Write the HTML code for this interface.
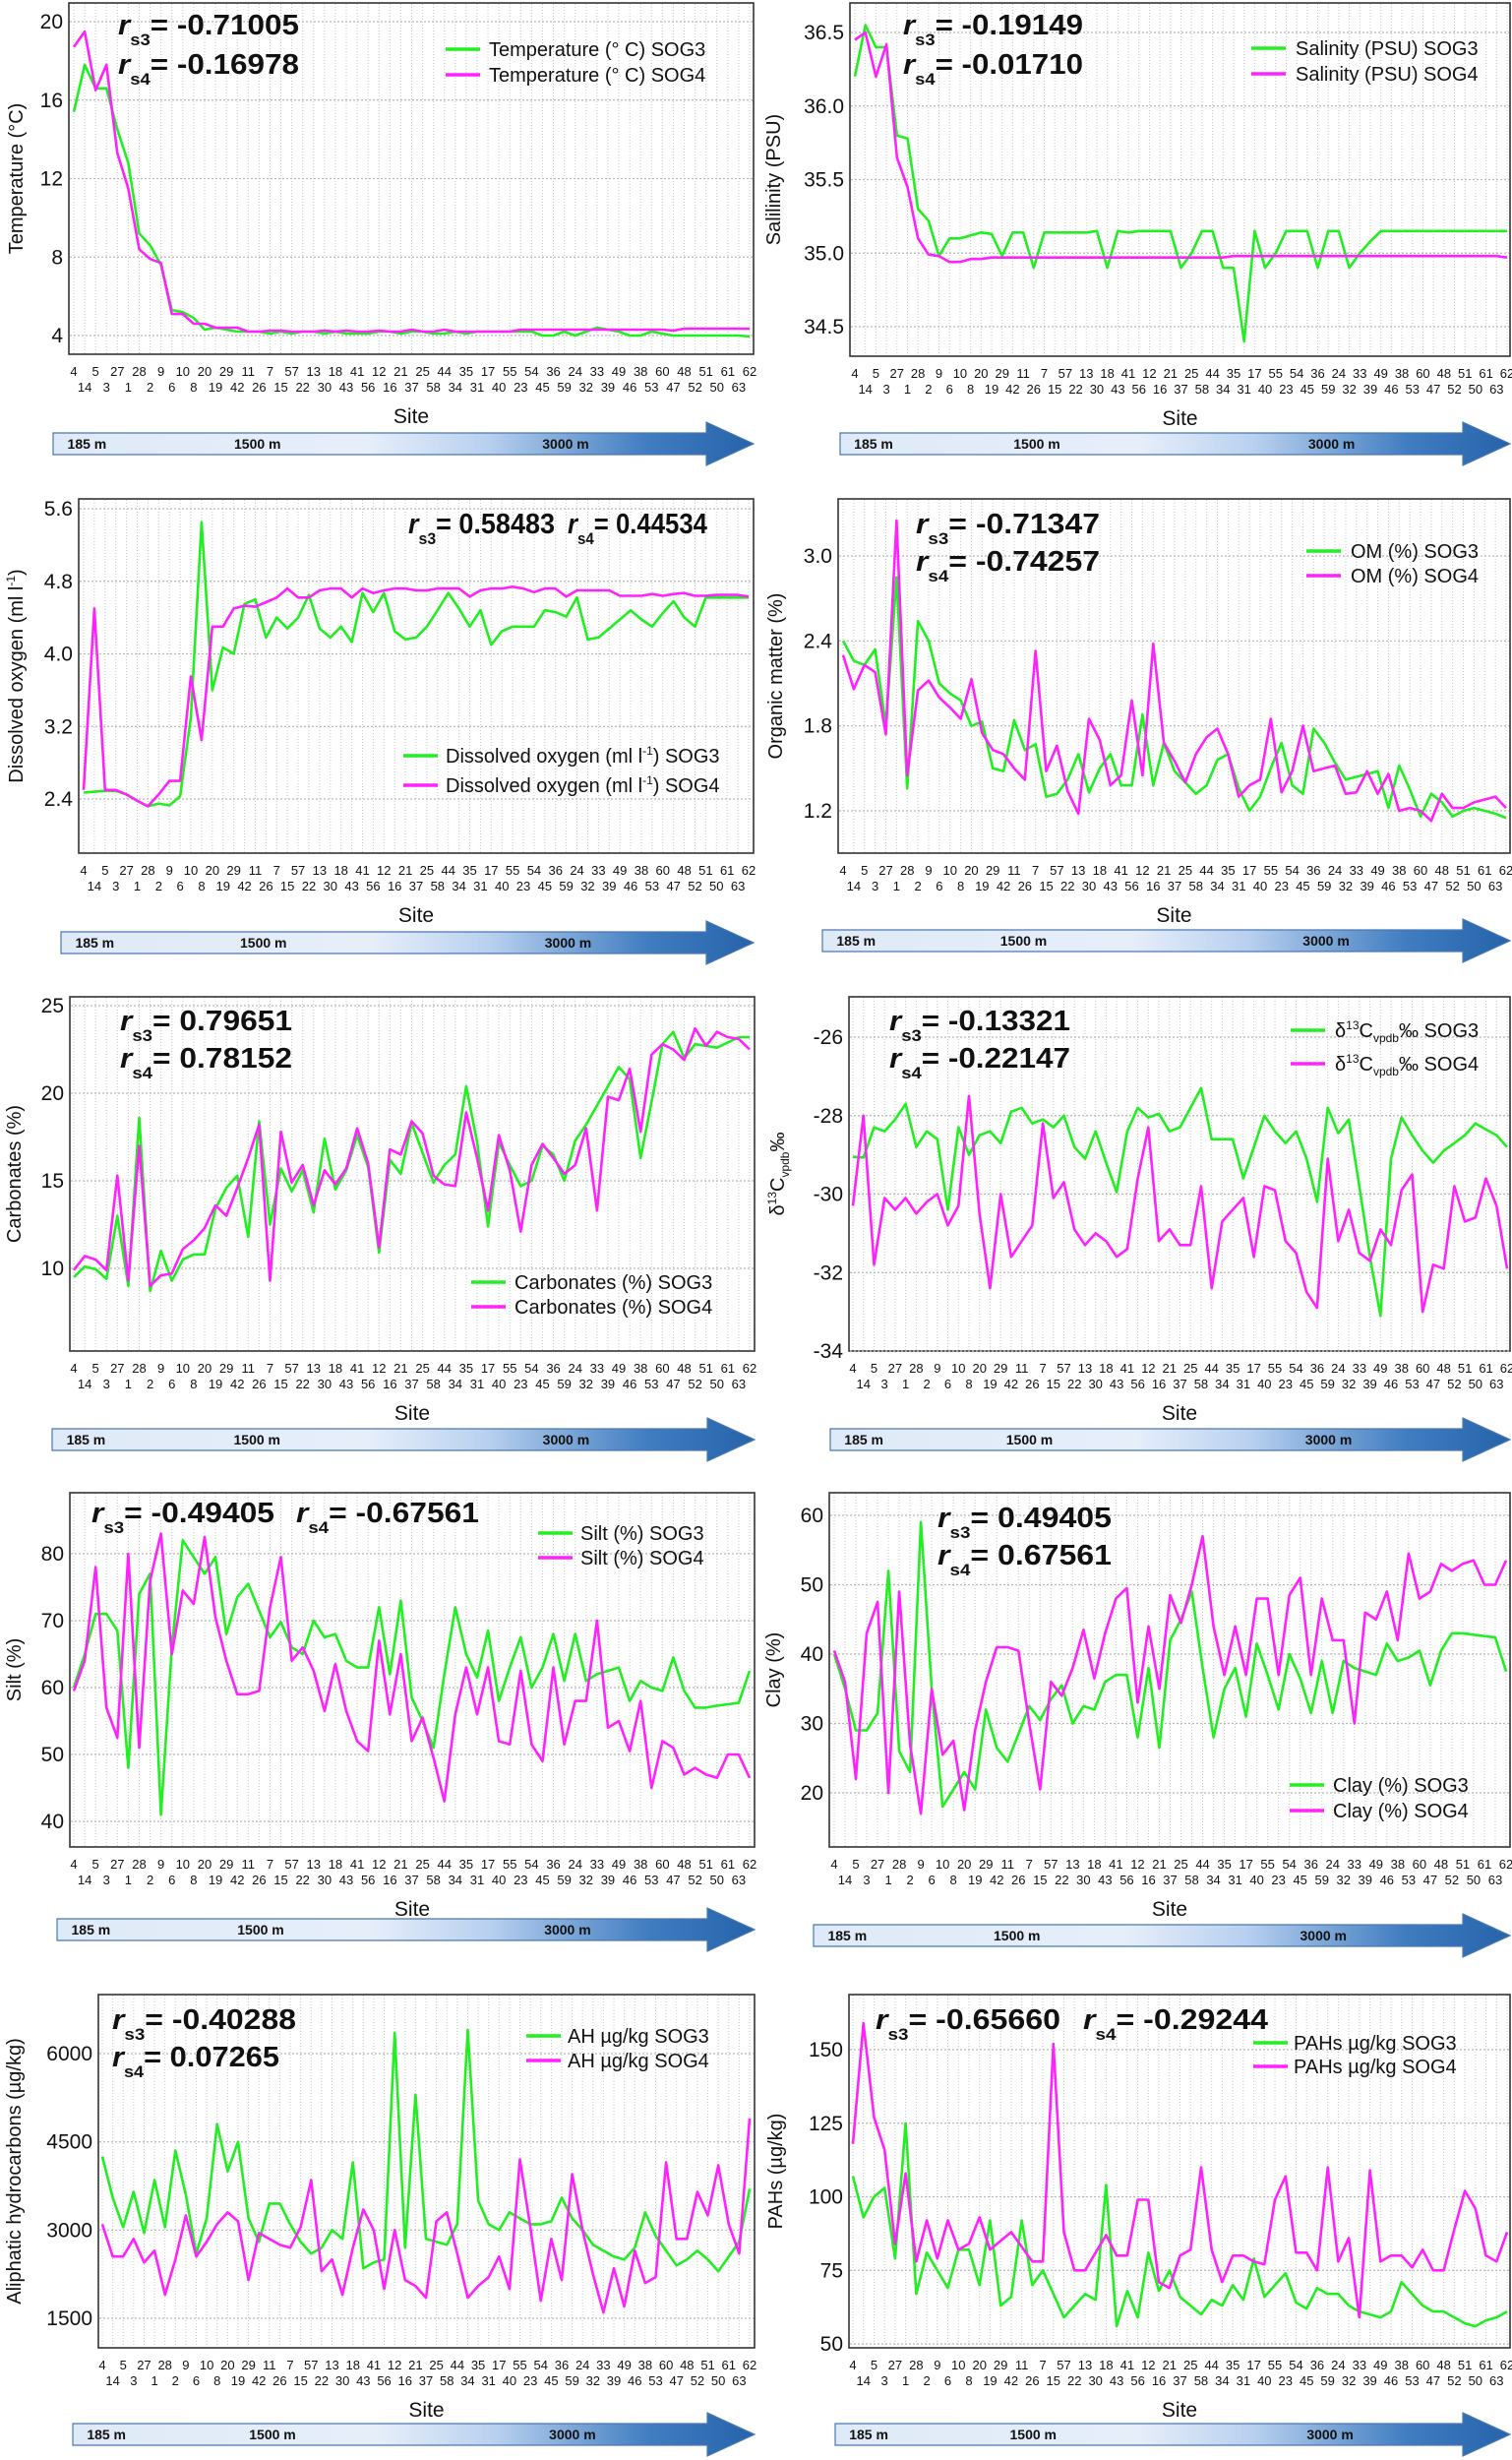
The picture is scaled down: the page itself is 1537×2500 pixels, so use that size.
<!DOCTYPE html>
<html><head><meta charset="utf-8"><title>Environmental variables vs site</title>
<style>
html,body{margin:0;padding:0;background:#fff;}
svg{display:block;}
text{font-family:"Liberation Sans",Arial,sans-serif;}
</style></head>
<body>
<svg id="fig" xmlns="http://www.w3.org/2000/svg" width="1537" height="2500" viewBox="0 0 1537 2500">
<defs>
<linearGradient id="depthGrad" x1="0" x2="1" y1="0" y2="0">
<stop offset="0" stop-color="#dfeaf8"/>
<stop offset="0.45" stop-color="#e6eefa"/>
<stop offset="0.62" stop-color="#b8d0ef"/>
<stop offset="0.85" stop-color="#3f7cc0"/>
<stop offset="1" stop-color="#2663aa"/>
</linearGradient>
</defs>
<rect x="0" y="0" width="1537" height="2500" fill="#fff"/>
</svg>
<script>
// ---- data ----
const sites = [4,14,5,3,27,1,28,2,9,6,10,8,20,19,29,42,11,26,7,15,57,22,13,30,18,43,41,56,12,16,21,37,25,58,44,34,35,31,17,40,55,23,54,45,36,59,24,32,33,39,49,46,38,53,60,47,48,52,51,50,61,63,62];

const tempS3 = [15.4,17.8,16.6,16.6,14.5,12.8,9.2,8.6,7.6,5.3,5.2,4.9,4.3,4.4,4.3,4.2,4.2,4.2,4.1,4.2,4.1,4.2,4.2,4.1,4.2,4.1,4.1,4.1,4.2,4.2,4.1,4.2,4.2,4.1,4.1,4.2,4.1,4.2,4.2,4.2,4.2,4.2,4.2,4.0,4.0,4.2,4.0,4.2,4.4,4.3,4.2,4.0,4.0,4.2,4.1,4.0,4.0,4.0,4.0,4.0,4.0,4.0,3.95];
const tempS4 = [18.7,19.5,16.5,17.8,13.3,11.5,8.4,7.9,7.7,5.1,5.1,4.6,4.6,4.4,4.4,4.4,4.2,4.2,4.25,4.25,4.2,4.2,4.2,4.25,4.2,4.25,4.2,4.2,4.25,4.2,4.2,4.3,4.2,4.2,4.3,4.2,4.2,4.2,4.2,4.2,4.2,4.3,4.3,4.3,4.3,4.3,4.3,4.3,4.3,4.3,4.3,4.3,4.3,4.3,4.3,4.25,4.35,4.35,4.35,4.35,4.35,4.35,4.35];

const salS3 = [36.2,36.55,36.4,36.4,35.8,35.78,35.3,35.22,34.98,35.1,35.1,35.12,35.14,35.13,34.98,35.14,35.14,34.9,35.14,35.14,35.14,35.14,35.14,35.15,34.9,35.15,35.14,35.15,35.15,35.15,35.15,34.9,35.0,35.15,35.15,34.9,34.9,34.4,35.15,34.9,35.0,35.15,35.15,35.15,34.9,35.15,35.15,34.9,35.0,35.08,35.15,35.15,35.15,35.15,35.15,35.15,35.15,35.15,35.15,35.15,35.15,35.15,35.15];
const salS4 = [36.45,36.5,36.2,36.42,35.65,35.45,35.1,34.99,34.98,34.94,34.94,34.96,34.96,34.97,34.97,34.97,34.97,34.97,34.97,34.97,34.97,34.97,34.97,34.97,34.97,34.97,34.97,34.97,34.97,34.97,34.97,34.97,34.97,34.97,34.97,34.97,34.98,34.98,34.98,34.98,34.98,34.98,34.98,34.98,34.98,34.98,34.98,34.98,34.98,34.98,34.98,34.98,34.98,34.98,34.98,34.98,34.98,34.98,34.98,34.98,34.98,34.98,34.97];

const doS3 = [2.47,2.48,2.49,2.49,2.45,2.38,2.32,2.35,2.33,2.43,3.3,5.45,3.6,4.07,4.0,4.55,4.6,4.18,4.4,4.28,4.4,4.65,4.28,4.18,4.3,4.13,4.67,4.46,4.67,4.25,4.16,4.18,4.3,4.48,4.67,4.5,4.3,4.48,4.1,4.25,4.3,4.3,4.3,4.48,4.46,4.41,4.62,4.16,4.18,4.28,4.38,4.48,4.38,4.3,4.45,4.58,4.4,4.3,4.62,4.62,4.62,4.62,4.62];
const doS4 = [2.5,4.5,2.5,2.5,2.45,2.38,2.32,2.45,2.6,2.6,3.75,3.05,4.3,4.3,4.5,4.53,4.52,4.57,4.62,4.72,4.62,4.62,4.7,4.72,4.72,4.62,4.72,4.67,4.7,4.72,4.72,4.7,4.7,4.72,4.72,4.72,4.63,4.7,4.72,4.72,4.74,4.72,4.68,4.72,4.72,4.63,4.7,4.7,4.7,4.7,4.64,4.64,4.64,4.66,4.64,4.66,4.67,4.64,4.64,4.65,4.65,4.65,4.63];

const omS3 = [2.4,2.26,2.23,2.34,1.8,2.85,1.36,2.54,2.4,2.1,2.03,1.98,1.8,1.83,1.5,1.48,1.84,1.63,1.67,1.3,1.32,1.42,1.6,1.33,1.5,1.6,1.38,1.38,1.88,1.38,1.68,1.48,1.4,1.32,1.38,1.56,1.6,1.36,1.2,1.3,1.5,1.68,1.38,1.32,1.78,1.68,1.54,1.42,1.44,1.46,1.48,1.22,1.52,1.35,1.16,1.32,1.26,1.16,1.2,1.22,1.2,1.18,1.15];
const omS4 = [2.3,2.06,2.23,2.18,1.74,3.25,1.45,2.05,2.12,2.0,1.93,1.85,2.13,1.75,1.63,1.6,1.5,1.42,2.33,1.48,1.66,1.34,1.18,1.85,1.7,1.38,1.45,1.98,1.45,2.38,1.68,1.55,1.4,1.6,1.72,1.78,1.6,1.3,1.38,1.42,1.85,1.33,1.48,1.8,1.48,1.5,1.52,1.32,1.33,1.48,1.32,1.46,1.2,1.22,1.2,1.13,1.32,1.22,1.22,1.26,1.28,1.3,1.22];

const carbS3 = [9.5,10.1,9.95,9.4,13.0,9.0,18.6,8.7,11.0,9.3,10.5,10.8,10.8,13.4,14.6,15.3,11.8,18.4,12.5,15.7,14.4,15.6,13.2,17.4,14.5,15.6,17.6,15.8,10.9,16.2,15.4,18.3,16.6,14.9,15.9,16.5,20.4,17.2,12.4,17.2,15.9,14.7,15.0,17.0,16.5,15.0,17.3,18.2,19.3,20.4,21.5,20.8,16.3,19.5,22.8,23.5,22.0,22.8,22.7,22.6,22.9,23.2,23.2];
const carbS4 = [9.9,10.7,10.5,9.9,15.3,9.3,17.0,9.0,9.6,9.7,11.1,11.6,12.3,13.6,13.0,14.6,16.3,18.2,9.3,17.8,14.9,15.9,13.6,15.6,14.8,15.7,18.0,16.0,11.2,16.8,16.5,18.4,17.7,15.3,14.8,14.7,18.9,16.3,13.3,17.6,15.6,12.1,15.9,17.1,16.3,15.4,15.9,18.0,13.3,19.8,19.6,21.4,17.8,22.2,22.8,22.5,21.9,23.7,22.7,23.5,23.2,23.1,22.5];

const d13S3 = [-29.05,-29.07,-28.3,-28.4,-28.1,-27.7,-28.8,-28.4,-28.6,-30.4,-28.3,-29.0,-28.5,-28.4,-28.7,-27.9,-27.8,-28.2,-28.1,-28.3,-28.0,-28.8,-29.1,-28.4,-29.2,-29.95,-28.4,-27.8,-28.05,-27.95,-28.4,-28.3,-27.8,-27.3,-28.6,-28.6,-28.6,-29.6,-28.8,-28.0,-28.4,-28.7,-28.4,-29.1,-30.2,-27.8,-28.45,-28.1,-29.8,-31.6,-33.1,-29.1,-28.05,-28.5,-28.9,-29.2,-28.9,-28.7,-28.5,-28.2,-28.35,-28.5,-28.8];
const d13S4 = [-30.3,-28.0,-31.8,-30.1,-30.4,-30.1,-30.5,-30.2,-30.0,-30.8,-30.3,-27.5,-30.5,-32.4,-30.0,-31.6,-31.2,-30.8,-28.2,-30.1,-29.7,-30.9,-31.3,-31.0,-31.2,-31.6,-31.4,-29.6,-28.3,-31.2,-30.9,-31.3,-31.3,-29.8,-32.4,-30.7,-30.4,-30.1,-31.6,-29.8,-29.9,-31.2,-31.5,-32.5,-32.9,-29.1,-31.2,-30.4,-31.5,-31.7,-30.9,-31.3,-29.9,-29.5,-33.0,-31.8,-31.9,-29.8,-30.7,-30.6,-29.6,-30.3,-31.9];

const siltS3 = [60,65,71,71,68.5,48,74,77,41,66,82,79.5,77,79.5,68,73.5,75.5,71.5,67.5,69.8,66,65,70,67.5,68,64,63,63,72,62,73,58.5,55,51,62,72,65,61.5,68.5,58,63,67.5,60,63,68,61,68,61,62,62.5,63,58,61,60,59.5,64.5,59.5,57,57,57.3,57.5,57.7,62.5];
const siltS4 = [59.5,64,78,57,52.5,80,51,76,83,65,74.5,72.5,82.5,70.5,64,59,59,59.5,72,79.5,64,66,62.5,56.5,63.5,56.5,52,50.5,67,56,65,52,55.5,49.5,43,56,63,56,63,52,51.5,62.5,51.5,49,63,51.5,58,58,70,54,55,50.5,58,45,52,51,47,48,47,46.5,50,50,46.5];

const clayS3 = [40,35,29,29,31.5,52,26,23,59,35,18,20.5,23,20.5,32,26.5,24.5,28.5,32.5,30.5,33.5,35.5,30,32.5,32,36,37,37,28,38,26.5,42,45,49,38,28,35,38,31,41.5,37,32,40,36.5,31.5,39,31.5,39,38,37.5,37,41.5,39,39.5,40.5,35.5,40.5,43,43,42.8,42.6,42.4,37.5];
const clayS4 = [40.5,36,22,43,47.5,20,49,27,17,35,25.5,27.5,17.5,29,36,41,41,40.5,30,20.5,36,34,38,43.5,36.5,43,48,49.5,33,44,35,48.5,44.5,50,57,44,37,44,37,48,48,37,48.5,51,37,48,42,42,30,46,45,49,42,54.5,48,49,53,52,53,53.5,50,50,53.5];

const ahS3 = [4250,3550,3050,3650,2950,3850,3050,4350,3600,2600,3200,4800,4000,4500,3200,2800,3450,3450,3100,2800,2600,2700,3000,2850,4150,2350,2450,2500,6350,2700,5300,2850,2800,2750,3100,6400,3500,3100,3000,3300,3200,3100,3100,3150,3550,3200,3000,2750,2650,2550,2500,2700,3300,2900,2650,2400,2500,2650,2500,2300,2550,2800,3700];
const ahS4 = [3100,2550,2550,2850,2450,2650,1900,2500,3250,2550,2800,3100,3300,3150,2150,2950,2850,2750,2700,3050,3850,2300,2500,1900,2700,3350,3000,2000,3000,2150,2050,1850,3150,3300,2600,1850,2050,2200,2550,2000,4200,3050,1800,2850,2150,3950,3000,2250,1600,2350,1700,2650,2100,2200,4150,2850,2850,3650,3250,4100,3100,2600,4900];

const pahS3 = [107,93,100,103,79,125,67,81,75,69,82,82,70,92,63,66,92,70,75,67,59,63,67,65,104,56,68,59,81,68,75,66,63,60,65,63,70,65,79,66,70,74,64,62,69,67,67,63,61,60,59,61,71,67,63,61,61,59,57,56,58,59,61];
const pahS4 = [118,159,127,116,84,108,78,92,79,92,82,84,93,82,85,88,83,78,78,152,88,75,75,81,87,80,80,99,99,71,69,80,82,110,82,71,80,80,78,77,99,107,81,81,75,110,78,86,59,109,78,80,80,76,82,75,75,89,102,96,80,78,88];

// tick labels
const tempTicks = [4,8,12,16,20];
const salTicks = [34.5,35.0,35.5,36.0,36.5];
const doTicks = [2.4,3.2,4.0,4.8,5.6];
const omTicks = [1.2,1.8,2.4,3.0];
const carbTicks = [10,15,20,25];
const d13Ticks = [-34,-32,-30,-28,-26];
const siltTicks = [40,50,60,70,80];
const clayTicks = [20,30,40,50,60];
const ahTicks = [1500,3000,4500,6000];
const pahTicks = [50,75,100,125,150];
const depthLabels = ['185 m','1500 m','3000 m'];

// ---- layout (geometry only) ----
const panels = [
 {id:'temperature',s3:tempS3,s4:tempS4,ticks:tempTicks,dec:0,L:70,R:766,T:3,B:360,x0:75,x1:762,vA:20,yA:22,vB:4,yB:341,ax:54,ab:440,ytx:16,
  ytitle:[['Temperature (°C)']],r:[[120,35,'s3','= -0.71005',184],[120,75,'s4','= -0.16978',184]],
  lg:{lx:453,tx:497,y1:50,y2:76,fs:20,a:[['Temperature (° C) SOG3']],b:[['Temperature (° C) SOG4']]}},
 {id:'salinity',s3:salS3,s4:salS4,ticks:salTicks,dec:1,L:864,R:1535,T:3,B:362,x0:869,x1:1532,vA:36.5,yA:33,vB:34.5,yB:332,ax:854,ab:440,ytx:786,
  ytitle:[['Salilinity (PSU)']],r:[[918,35,'s3','= -0.19149',183],[918,75,'s4','= -0.01710',183]],
  lg:{lx:1272,tx:1317,y1:49,y2:75,fs:20,a:[['Salinity (PSU) SOG3']],b:[['Salinity (PSU) SOG4']]}},
 {id:'dissolved-oxygen',s3:doS3,s4:doS4,ticks:doTicks,dec:1,L:80,R:766,T:507,B:867,x0:85,x1:761,vA:5.6,yA:517,vB:2.4,yB:812,ax:62,ab:947,ytx:16,
  ytitle:[['Dissolved oxygen (ml l'],['-1','sup'],[')']],r:[[415,542,'s3','= 0.58483',149],[577,542,'s4','= 0.44534',142]],
  lg:{lx:410,tx:453,y1:768,y2:798,fs:20,a:[['Dissolved oxygen (ml l'],['-1','sup'],[') SOG3']],b:[['Dissolved oxygen (ml l'],['-1','sup'],[') SOG4']]}},
 {id:'organic-matter',s3:omS3,s4:omS4,ticks:omTicks,dec:1,L:852,R:1535,T:507,B:867,x0:857,x1:1531,vA:3.0,yA:565,vB:1.2,yB:824,ax:836,ab:945,ytx:788,
  ytitle:[['Organic matter (%)']],r:[[931,542,'s3','= -0.71347',187],[931,580,'s4','= -0.74257',187]],
  lg:{lx:1328,tx:1373,y1:560,y2:585,fs:20,a:[['OM (%) SOG3']],b:[['OM (%) SOG4']]}},
 {id:'carbonates',s3:carbS3,s4:carbS4,ticks:carbTicks,dec:0,L:71,R:767,T:1013,B:1373,x0:75,x1:762,vA:25,yA:1022,vB:10,yB:1289,ax:53,ab:1452,ytx:14,
  ytitle:[['Carbonates (%)']],r:[[122,1047,'s3','= 0.79651',175],[122,1085,'s4','= 0.78152',175]],
  lg:{lx:479,tx:523,y1:1303,y2:1328,fs:20,a:[['Carbonates (%) SOG3']],b:[['Carbonates (%) SOG4']]}},
 {id:'delta13c',s3:d13S3,s4:d13S4,ticks:d13Ticks,dec:0,L:863,R:1535,T:1013,B:1373,x0:867,x1:1532,vA:-26,yA:1054,vB:-34,yB:1373,ax:844,ab:1452,ytx:790,
  ytitle:[['δ'],['13','sup'],['C'],['vpdb','sub'],['‰']],r:[[904,1047,'s3','= -0.13321',184],[904,1085,'s4','= -0.22147',184]],
  lg:{lx:1312,tx:1357,y1:1047,y2:1081,fs:20,a:[['δ'],['13','sup'],['C'],['vpdb','sub'],['‰ SOG3']],b:[['δ'],['13','sup'],['C'],['vpdb','sub'],['‰ SOG4']]}},
 {id:'silt',s3:siltS3,s4:siltS4,ticks:siltTicks,dec:0,L:71,R:767,T:1517,B:1877,x0:75,x1:762,vA:80,yA:1579,vB:40,yB:1851,ax:58,ab:1950,ytx:14,
  ytitle:[['Silt (%)']],r:[[93,1547,'s3','= -0.49405',186],[301,1547,'s4','= -0.67561',186]],
  lg:{lx:547,tx:590,y1:1558,y2:1583,fs:20,a:[['Silt  (%) SOG3']],b:[['Silt  (%) SOG4']]}},
 {id:'clay',s3:clayS3,s4:clayS4,ticks:clayTicks,dec:0,L:843,R:1535,T:1517,B:1877,x0:848,x1:1531,vA:60,yA:1540,vB:20,yB:1822,ax:827,ab:1956,ytx:786,
  ytitle:[['Clay (%)']],r:[[953,1552,'s3','= 0.49405',177],[953,1590,'s4','= 0.67561',177]],
  lg:{lx:1311,tx:1355,y1:1814,y2:1840,fs:20,a:[['Clay  (%) SOG3']],b:[['Clay  (%) SOG4']]}},
 {id:'aliphatic-hydrocarbons',s3:ahS3,s4:ahS4,ticks:ahTicks,dec:0,L:100,R:767,T:2027,B:2386,x0:104,x1:762,vA:6000,yA:2087,vB:1500,yB:2356,ax:74,ab:2463,ytx:14,
  ytitle:[['Aliphatic hydrocarbons (µg/kg)']],r:[[114,2062,'s3','= -0.40288',187],[114,2100,'s4','= 0.07265',170]],
  lg:{lx:535,tx:577,y1:2069,y2:2094,fs:20,a:[['AH  µg/kg SOG3']],b:[['AH  µg/kg SOG4']]}},
 {id:'pahs',s3:pahS3,s4:pahS4,ticks:pahTicks,dec:0,L:863,R:1535,T:2027,B:2386,x0:867,x1:1532,vA:150,yA:2083,vB:50,yB:2382,ax:849,ab:2463,ytx:788,
  ytitle:[['PAHs  (µg/kg)']],r:[[890,2062,'s3','= -0.65660',188],[1101,2062,'s4','= -0.29244',188]],
  lg:{lx:1274,tx:1315,y1:2076,y2:2100,fs:20,a:[['PAHs µg/kg SOG3']],b:[['PAHs µg/kg SOG4']]}}
];

const NS = 'http://www.w3.org/2000/svg';
const svg = document.getElementById('fig');
function el(tag, parent){ const e = document.createElementNS(NS, tag); parent.appendChild(e); return e; }
function at(e, o){ for (const k in o) e.setAttribute(k, o[k]); }
function rich(t, segs, fs){
  let off = 0;
  for (const s of segs){
    const ts = el('tspan', t);
    ts.textContent = s[0];
    let target = 0;
    if (s[1] === 'sup'){ target = -fs*0.4; at(ts, {'font-size': fs*0.6}); }
    else if (s[1] === 'sub'){ target = fs*0.25; at(ts, {'font-size': fs*0.6}); }
    if (target !== off){ at(ts, {dy: target - off}); off = target; }
  }
}
const GREEN = '#22ee22', MAG = '#ff22ff';

panels.forEach(p => {
  const g = el('g', svg);
  
  
  const xS = i => p.x0 + i * (p.x1 - p.x0) / (sites.length - 1);
  const yS = v => p.yA + (v - p.vA) * (p.yB - p.yA) / (p.vB - p.vA);

  const frame = el('rect', g);
  at(frame, {x:p.L, y:p.T, width:p.R-p.L, height:p.B-p.T, fill:'#fff', stroke:'#333', 'stroke-width':1.6});
  
  

  const grid = el('g', g);
  
  
  sites.forEach((s, i) => {
    const l = el('line', grid);
    at(l, {x1:xS(i), x2:xS(i), y1:p.T+1, y2:p.B-1, stroke:'#c8c8c8', 'stroke-width':1, 'stroke-dasharray':'1 2'});
  });
  p.ticks.forEach(t => {
    const l = el('line', grid);
    at(l, {x1:p.L+1, x2:p.R-1, y1:yS(t), y2:yS(t), stroke:'#b8b8b8', 'stroke-width':1.2, 'stroke-dasharray':'2 2'});
    const tl = el('text', g);
    at(tl, {x:p.L-6, y:yS(t)+7, 'text-anchor':'end', 'font-size':21, fill:'#111'});
    tl.textContent = t.toFixed(p.dec);
    
    
  });

  [[p.s3, GREEN, 'series-sog3'], [p.s4, MAG, 'series-sog4']].forEach(([arr, col, nm]) => {
    const pl = el('polyline', g);
    at(pl, {points: arr.map((v, i) => xS(i).toFixed(1) + ',' + yS(v).toFixed(1)).join(' '), fill:'none', stroke:col, 'stroke-width':2.6, 'stroke-linejoin':'round'});
    
    
  });

  const xl = el('g', g);
  
  
  sites.forEach((s, i) => {
    const t = el('text', xl);
    at(t, {x:xS(i), y: p.B + (i % 2 === 0 ? 22 : 38), 'text-anchor':'middle', 'font-size':13, fill:'#111'});
    t.textContent = s;
  });

  const xt = el('text', g);
  at(xt, {x:(p.L+p.R)/2, y:p.B+70, 'text-anchor':'middle', 'font-size':21, fill:'#111'});
  xt.textContent = 'Site';
  
  

  const yt = el('text', g);
  const cy = (p.T + p.B) / 2;
  at(yt, {x:p.ytx, y:cy+7, 'text-anchor':'middle', 'font-size':20, fill:'#111', transform:'rotate(-90 ' + p.ytx + ' ' + cy + ')'});
  rich(yt, p.ytitle, 20);
  
  

  p.r.forEach(r => {
    const t = el('text', g);
    at(t, {x:r[0], y:r[1], 'font-size':29, 'font-weight':'bold', fill:'#111', textLength:r[4], lengthAdjust:'spacingAndGlyphs'});
    const a = el('tspan', t); a.textContent = 'r'; at(a, {'font-style':'italic'});
    const b = el('tspan', t); b.textContent = r[2]; at(b, {'font-size':17, dy:11});
    const c = el('tspan', t); c.textContent = r[3]; at(c, {dy:-11});
    
    
  });

  const lg = el('g', g);
  
  
  [[p.lg.y1, GREEN, p.lg.a, 'legend-entry-sog3'], [p.lg.y2, MAG, p.lg.b, 'legend-entry-sog4']].forEach(([y, col, segs, nm]) => {
    const e = el('g', lg);
    
    
    const l = el('line', e);
    at(l, {x1:p.lg.lx, x2:p.lg.lx+35, y1:y, y2:y, stroke:col, 'stroke-width':3.5});
    const t = el('text', e);
    at(t, {x:p.lg.tx, y:y+7, 'font-size':p.lg.fs, fill:'#111'});
    rich(t, segs, p.lg.fs);
  });

  const ar = el('g', g);
  
  
  const bt = p.ab, be = p.R - 48, L = p.ax;
  const path = el('path', ar);
  at(path, {d:'M' + L + ',' + bt + ' L' + be + ',' + bt + ' L' + be + ',' + (bt-11) + ' L' + p.R + ',' + (bt+11) + ' L' + be + ',' + (bt+33) + ' L' + be + ',' + (bt+22) + ' L' + L + ',' + (bt+22) + ' Z', fill:'url(#depthGrad)', stroke:'#4a78b0', 'stroke-width':1.2});
  const fr = [0.012, 0.25, 0.69];
  depthLabels.forEach((d, k) => {
    const t = el('text', ar);
    at(t, {x: L + 6 + fr[k] * (p.R - L), y: bt + 16, 'font-size':14, 'font-weight':'bold', fill:'#111'});
    t.textContent = d;
    
    
  });
});
</script>
</body></html>
